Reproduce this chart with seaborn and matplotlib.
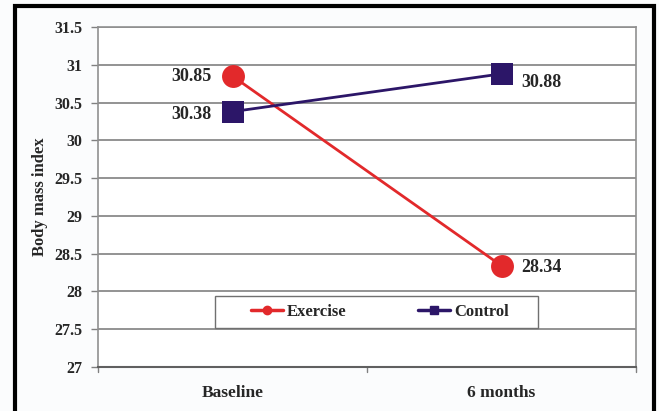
import matplotlib
matplotlib.use("Agg")
import matplotlib.pyplot as plt
from matplotlib.patches import Rectangle
import seaborn as sns
import pandas as pd

# Body mass index at two time points for each group
timepoints = ["Baseline", "6 months"]
exercise_bmi = [30.85, 28.34]
control_bmi = [30.38, 30.88]
groups = ["Exercise", "Control"]
y_ticks = [27, 27.5, 28, 28.5, 29, 29.5, 30, 30.5, 31, 31.5]

df = pd.DataFrame({
    "time": timepoints * 2,
    "bmi": exercise_bmi + control_bmi,
    "group": [groups[0]] * 2 + [groups[1]] * 2,
})
df["x"] = df["time"].map({t: i for i, t in enumerate(timepoints)})

sns.set_theme(style="white")
plt.rcParams["font.family"] = ["Liberation Serif", "DejaVu Serif"]
plt.rcParams["font.weight"] = "bold"

palette = {"Exercise": "#e2292b", "Control": "#2c1668"}

W, H = 659, 411
fig = plt.figure(figsize=(W / 100, H / 100), dpi=100)
fig.patch.set_facecolor("#fbfcfd")
ax = fig.add_axes([98 / W, 1 - 367 / H, 538 / W, 340 / H])
ax.set_facecolor("white")

sns.lineplot(data=df, x="x", y="bmi", hue="group", style="group",
             palette=palette, markers={"Exercise": "o", "Control": "s"},
             dashes=False, markersize=16.5, linewidth=2, markeredgewidth=0,
             ax=ax, legend=False)

ax.set_xlim(-0.5, 1.5)
ax.set_ylim(27, 31.5)
ax.set_yticks(y_ticks)
ax.set_yticklabels([f"{v:g}" for v in y_ticks], fontsize=11.5, fontweight="bold")
ax.set_xticks([0, 1])
ax.set_xticklabels(timepoints, fontsize=12.5, fontweight="bold")
ax.tick_params(axis="x", length=0, pad=13)
ax.tick_params(axis="y", length=5, width=1, color="#808080", pad=6, direction="out", left=True)
for xb in (-0.5, 0.5, 1.5):
    ax.plot([xb, xb], [0, -0.015], transform=ax.get_xaxis_transform(),
            color="#808080", lw=1, clip_on=False)

ax.grid(axis="y", color="#8a8a8a", linewidth=1.3)
ax.set_axisbelow(True)
for side in ("left", "right", "top"):
    ax.spines[side].set_color("#909090")
    ax.spines[side].set_linewidth(1.2)
ax.spines["bottom"].set_color("#606060")
ax.spines["bottom"].set_linewidth(1.5)

ax.set_xlabel("")
ax.set_ylabel("Body mass index", fontsize=12, fontweight="bold", labelpad=5)

# value labels beside each marker
label_offsets = {
    "Exercise": [(-15, 0), (14, -1)],
    "Control": [(-15, -2), (14, -6)],
}
for name, vals in zip(groups, [exercise_bmi, control_bmi]):
    (dx0, dy0), (dx1, dy1) = label_offsets[name]
    ax.annotate(f"{vals[0]:.2f}", (0, vals[0]), xytext=(dx0, dy0), textcoords="offset points",
                ha="right", va="center", fontsize=13, fontweight="bold")
    ax.annotate(f"{vals[1]:.2f}", (1, vals[1]), xytext=(dx1, dy1), textcoords="offset points",
                ha="left", va="center", fontsize=13, fontweight="bold")

# legend: boxed strip inside the plot area
box = Rectangle(((215 - 98) / 538, (367 - 328) / 340), 323 / 538, 32 / 340,
                transform=ax.transAxes, facecolor="white", edgecolor="#707070",
                linewidth=1, zorder=4)
ax.add_patch(box)
handles = [
    plt.Line2D([], [], color=palette["Exercise"], marker="o", markersize=6, lw=2.5),
    plt.Line2D([], [], color=palette["Control"], marker="s", markersize=6, lw=2.5),
]
leg = ax.legend(handles, groups, ncol=2, loc="center left",
                bbox_to_anchor=((251 - 98) / 538, (367 - 312) / 340),
                frameon=False, handlelength=1.9, handletextpad=0.25,
                columnspacing=4.3, borderaxespad=0, borderpad=0,
                prop={"weight": "bold", "size": 12})
leg.set_zorder(5)

fig.patches.append(Rectangle((14.5 / W, -0.05), 639 / W, 1.05 - 6 / H,
                             transform=fig.transFigure, fill=False,
                             edgecolor="black", linewidth=3))

fig.savefig("out.png", dpi=100, facecolor=fig.get_facecolor())
